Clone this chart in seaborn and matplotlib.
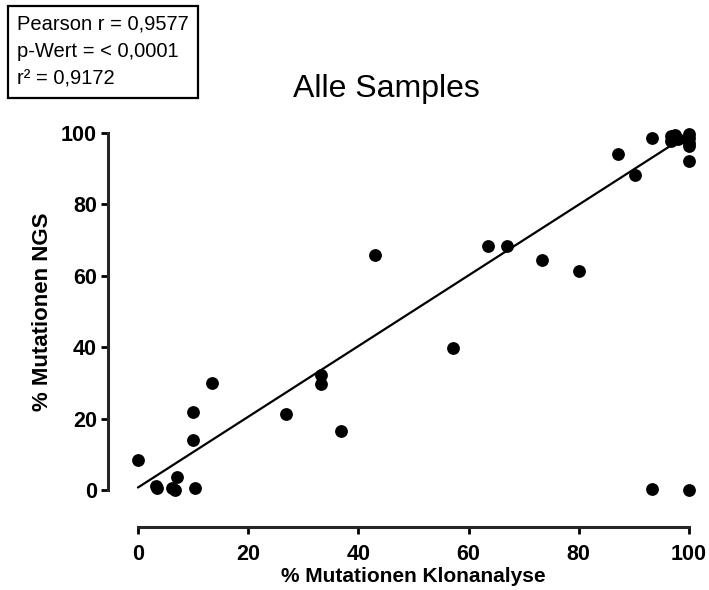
import numpy as np
import pandas as pd
import matplotlib
matplotlib.use("Agg")
import matplotlib.pyplot as plt
import seaborn as sns

# ---- data ----
klon = [0.0, 3.4, 3.3, 6.2, 7.1, 6.7, 10.3, 10.0, 10.0, 13.4,
        26.9, 33.3, 33.3, 36.8, 43.0, 57.1, 63.5, 66.9, 73.4, 80.1,
        87.2, 90.2, 93.2, 96.7, 97.0, 97.5, 98.0, 96.8,
        100.0, 100.0, 100.0, 100.0, 100.0, 93.3, 100.0]
ngs = [8.4, 0.6, 1.0, 0.6, 3.6, 0.0, 0.6, 14.0, 21.8, 30.0,
       21.2, 32.2, 29.7, 16.5, 65.8, 39.9, 68.4, 68.3, 64.4, 61.3,
       94.1, 88.2, 98.5, 99.0, 98.0, 99.5, 98.3, 97.6,
       99.8, 98.5, 97.2, 96.2, 92.0, 0.2, 0.0]

fit_slope = 0.99
fit_intercept = 0.7
fit_x = [0.0, 100.0]

ticks = [0, 20, 40, 60, 80, 100]
title = "Alle Samples"
xlabel = "% Mutationen Klonanalyse"
ylabel = "% Mutationen NGS"
stats_text = "Pearson r = 0,9577\np-Wert = < 0,0001\nr\u00b2 = 0,9172"

df = pd.DataFrame({"klon": klon, "ngs": ngs})
fit_df = pd.DataFrame({"x": fit_x,
                       "y": [fit_intercept + fit_slope * v for v in fit_x]})

sns.set_style("ticks")
plt.rcParams["font.family"] = ["Liberation Sans", "DejaVu Sans"]

fig = plt.figure(figsize=(7.09, 5.90), dpi=100)
W, H = 709, 590
left_px, right_px, top_px, bottom_px = 108, 700, 125, 527
ax = fig.add_axes([left_px / W, 1 - bottom_px / H,
                   (right_px - left_px) / W, (bottom_px - top_px) / H])

sns.lineplot(data=fit_df, x="x", y="y", ax=ax, color="black", linewidth=1.6)
sns.scatterplot(data=df, x="klon", y="ngs", ax=ax, color="black",
                s=85, edgecolor="black", linewidth=0, zorder=3, clip_on=False)

ax.set_xlim(-5.44, 102.0)
ax.set_ylim(-10.36, 102.2)
ax.set_xticks(ticks)
ax.set_yticks(ticks)
ax.set_xticklabels([str(t) for t in ticks])
ax.set_yticklabels([str(t) for t in ticks])

for side in ["top", "right"]:
    ax.spines[side].set_visible(False)
for side in ["left", "bottom"]:
    ax.spines[side].set_linewidth(2.2)
ax.spines["left"].set_bounds(0, 100)
ax.spines["bottom"].set_bounds(0, 100)

ax.tick_params(axis="both", direction="out", length=5, width=2.0,
               color="black", labelsize=15.5, labelcolor="black")
ax.tick_params(axis="y", pad=3)
ax.tick_params(axis="x", pad=7)
for lab in ax.get_xticklabels() + ax.get_yticklabels():
    lab.set_fontweight("bold")

ax.set_xlabel(xlabel, fontsize=15, fontweight="bold", color="black")
ax.set_ylabel(ylabel, fontsize=16, fontweight="bold", color="black")
ax.xaxis.set_label_coords(0.516, -0.122)
ax.xaxis.label.set_verticalalignment("center")
ax.yaxis.set_label_coords(-0.110, 0.536)
ax.yaxis.label.set_verticalalignment("center")

ax.set_title(title, fontsize=23, x=0.47, y=1.05, va="baseline",
             color="black")

fig.text(17 / W, 1 - 15 / H, stats_text, ha="left", va="top",
         fontsize=14.5, color="black", linespacing=1.55,
         bbox=dict(boxstyle="square,pad=0.45", facecolor="white",
                   edgecolor="black", linewidth=1.6))

fig.savefig("out.png", dpi=100)
